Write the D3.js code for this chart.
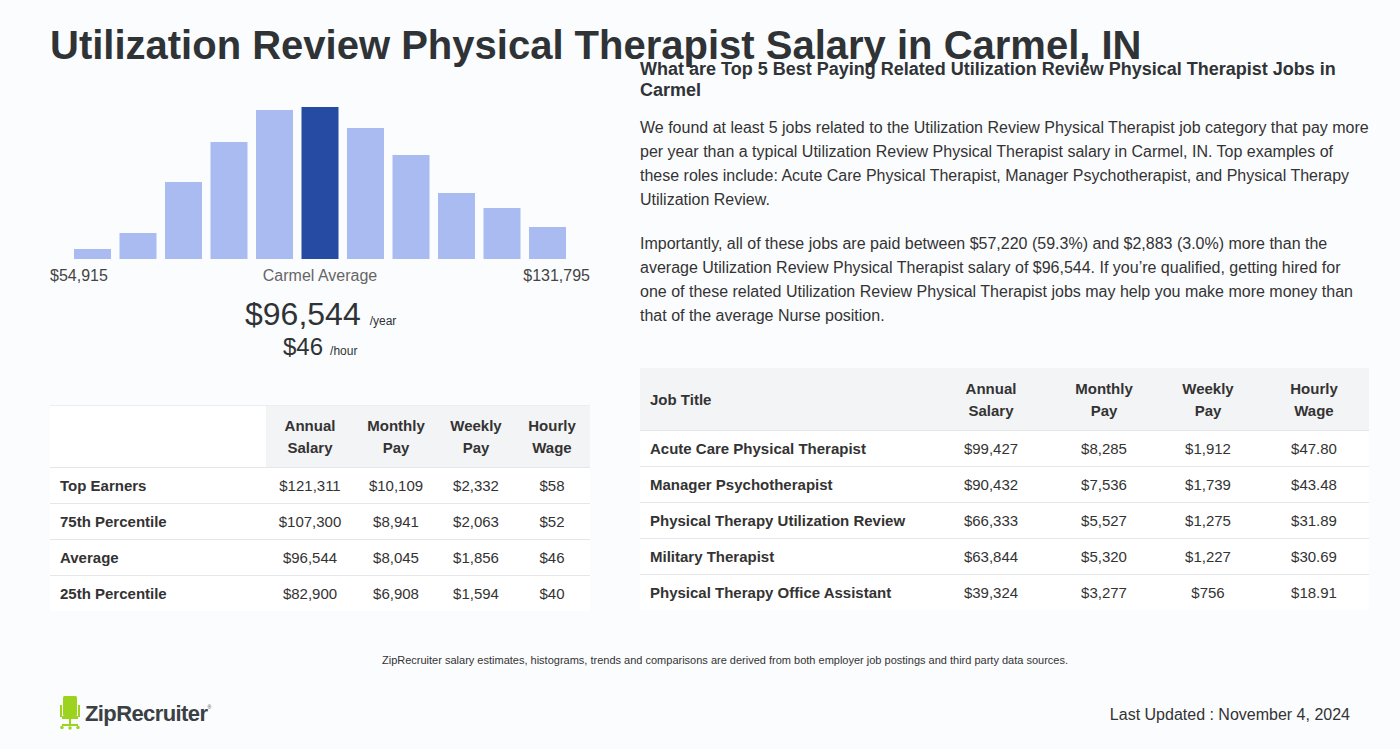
<!DOCTYPE html>
<html><head><meta charset="utf-8">
<script src="https://cdn.jsdelivr.net/npm/d3@7"></script>
<style>html,body{margin:0;padding:0;background:#fbfcfe;}svg{display:block;font-family:"Liberation Sans",Arial,sans-serif;}</style>
</head><body>
<div id="chart"></div>
<script>
// ---------- DATA ----------
const titleText = "Utilization Review Physical Therapist Salary in Carmel, IN";
const histBins = ["b1","b2","b3","b4","b5","b6","b7","b8","b9","b10","b11"];
const histValues = [10, 26, 77, 117, 149, 152, 131, 104, 66, 51, 32];
const highlightBin = 5;
const rangeMin = "$54,915";
const rangeMax = "$131,795";
const avgLabel = "Carmel Average";
const avgYear = "$96,544";
const avgHour = "$46";

const leftCols = [["Annual","Salary"],["Monthly","Pay"],["Weekly","Pay"],["Hourly","Wage"]];
const leftRowLabels = ["Top Earners","75th Percentile","Average","25th Percentile"];
const leftAnnual = ["$121,311","$107,300","$96,544","$82,900"];
const leftMonthly = ["$10,109","$8,941","$8,045","$6,908"];
const leftWeekly = ["$2,332","$2,063","$1,856","$1,594"];
const leftHourly = ["$58","$52","$46","$40"];

const subHeading = ["What are Top 5 Best Paying Related Utilization Review Physical Therapist Jobs in","Carmel"];
const para1 = ["We found at least 5 jobs related to the Utilization Review Physical Therapist job category that pay more",
 "per year than a typical Utilization Review Physical Therapist salary in Carmel, IN. Top examples of",
 "these roles include: Acute Care Physical Therapist, Manager Psychotherapist, and Physical Therapy",
 "Utilization Review."];
const para2 = ["Importantly, all of these jobs are paid between $57,220 (59.3%) and $2,883 (3.0%) more than the",
 "average Utilization Review Physical Therapist salary of $96,544. If you\u2019re qualified, getting hired for",
 "one of these related Utilization Review Physical Therapist jobs may help you make more money than",
 "that of the average Nurse position."];

const rightCols = [["Annual","Salary"],["Monthly","Pay"],["Weekly","Pay"],["Hourly","Wage"]];
const jobTitles = ["Acute Care Physical Therapist","Manager Psychotherapist","Physical Therapy Utilization Review","Military Therapist","Physical Therapy Office Assistant"];
const jobAnnual = ["$99,427","$90,432","$66,333","$63,844","$39,324"];
const jobMonthly = ["$8,285","$7,536","$5,527","$5,320","$3,277"];
const jobWeekly = ["$1,912","$1,739","$1,275","$1,227","$756"];
const jobHourly = ["$47.80","$43.48","$31.89","$30.69","$18.91"];

const footnote = "ZipRecruiter salary estimates, histograms, trends and comparisons are derived from both employer job postings and third party data sources.";
const updated = "Last Updated : November 4, 2024";
const brand = "ZipRecruiter";

// ---------- DRAW ----------
const W = 1400, H = 749;
const svg = d3.select("#chart").append("svg").attr("width", W).attr("height", H);
svg.append("rect").attr("width", W).attr("height", H).attr("fill", "#fbfcfe");

const dark = "#2f3336", text = "#333333";

// Title
svg.append("text").attr("x", 50).attr("y", 59).attr("font-size", 40).attr("font-weight", "bold")
  .attr("fill", dark).text(titleText);

// Histogram
const x = d3.scaleBand().domain(histBins).range([74, 566]).paddingInner(0.187).paddingOuter(0);
const y = d3.scaleLinear().domain([0, 152]).range([259, 107]);
svg.append("g").selectAll("rect").data(histValues).join("rect")
  .attr("x", (d, i) => x(histBins[i])).attr("width", x.bandwidth())
  .attr("y", d => y(d)).attr("height", d => y(0) - y(d))
  .attr("fill", (d, i) => i === highlightBin ? "#264ba3" : "#a9bbf1");

svg.append("text").attr("x", 50).attr("y", 281).attr("font-size", 16).attr("fill", "#444").text(rangeMin);
svg.append("text").attr("x", 320).attr("y", 281).attr("font-size", 16).attr("fill", "#666").attr("text-anchor", "middle").text(avgLabel);
svg.append("text").attr("x", 590).attr("y", 281).attr("font-size", 16).attr("fill", "#444").attr("text-anchor", "end").text(rangeMax);

const yr = svg.append("text").attr("x", 245).attr("y", 325).attr("fill", dark);
yr.append("tspan").attr("font-size", 32).text(avgYear);
yr.append("tspan").attr("font-size", 12).attr("dx", 9).text("/year");
const hr = svg.append("text").attr("x", 283).attr("y", 355).attr("fill", dark);
hr.append("tspan").attr("font-size", 24).text(avgHour);
hr.append("tspan").attr("font-size", 12).attr("dx", 7).text("/hour");

// Left table
const lt = svg.append("g");
lt.append("rect").attr("x", 50).attr("y", 405).attr("width", 216).attr("height", 62).attr("fill", "#ffffff");
lt.append("rect").attr("x", 266).attr("y", 405).attr("width", 324).attr("height", 62).attr("fill", "#f3f4f6");
lt.append("line").attr("x1", 50).attr("x2", 590).attr("y1", 405.5).attr("y2", 405.5).attr("stroke", "#eceef1");
const lColX = [310, 396, 476, 552];
leftCols.forEach((c, i) => {
  c.forEach((t, j) => lt.append("text").attr("x", lColX[i]).attr("y", 431 + j * 22).attr("text-anchor", "middle")
    .attr("font-size", 15).attr("font-weight", "bold").attr("fill", text).text(t));
});
const lVals = [leftAnnual, leftMonthly, leftWeekly, leftHourly];
leftRowLabels.forEach((lab, r) => {
  const top = 467 + r * 36;
  lt.append("rect").attr("x", 50).attr("y", top).attr("width", 540).attr("height", 36).attr("fill", "#ffffff");
  lt.append("line").attr("x1", 50).attr("x2", 590).attr("y1", top + 0.5).attr("y2", top + 0.5).attr("stroke", "#e5e7eb");
  lt.append("text").attr("x", 60).attr("y", top + 24).attr("font-size", 15).attr("font-weight", "bold").attr("fill", text).text(lab);
  lVals.forEach((arr, c) => lt.append("text").attr("x", lColX[c]).attr("y", top + 24).attr("text-anchor", "middle")
    .attr("font-size", 15).attr("fill", text).text(arr[r]));
});

// Right side heading + paragraphs
subHeading.forEach((t, i) => svg.append("text").attr("x", 640).attr("y", 75 + i * 21).attr("font-size", 18)
  .attr("font-weight", "bold").attr("fill", dark).text(t));
para1.forEach((t, i) => svg.append("text").attr("x", 640).attr("y", 133 + i * 24).attr("font-size", 16).attr("fill", text).text(t));
para2.forEach((t, i) => svg.append("text").attr("x", 640).attr("y", 249 + i * 24).attr("font-size", 16).attr("fill", text).text(t));

// Right table
const rt = svg.append("g");
rt.append("rect").attr("x", 640).attr("y", 368).attr("width", 729).attr("height", 62).attr("fill", "#f3f4f6");
rt.append("text").attr("x", 650).attr("y", 405).attr("font-size", 15).attr("font-weight", "bold").attr("fill", text).text("Job Title");
const rColX = [991, 1104, 1208, 1314];
rightCols.forEach((c, i) => {
  c.forEach((t, j) => rt.append("text").attr("x", rColX[i]).attr("y", 394 + j * 22).attr("text-anchor", "middle")
    .attr("font-size", 15).attr("font-weight", "bold").attr("fill", text).text(t));
});
const rVals = [jobAnnual, jobMonthly, jobWeekly, jobHourly];
jobTitles.forEach((lab, r) => {
  const top = 430 + r * 36;
  rt.append("rect").attr("x", 640).attr("y", top).attr("width", 729).attr("height", 36).attr("fill", "#ffffff");
  rt.append("line").attr("x1", 640).attr("x2", 1369).attr("y1", top + 0.5).attr("y2", top + 0.5).attr("stroke", "#e5e7eb");
  rt.append("text").attr("x", 650).attr("y", top + 24).attr("font-size", 15).attr("font-weight", "bold").attr("fill", text).text(lab);
  rVals.forEach((arr, c) => rt.append("text").attr("x", rColX[c]).attr("y", top + 24).attr("text-anchor", "middle")
    .attr("font-size", 15).attr("fill", text).text(arr[r]));
});

// Footnote
svg.append("text").attr("x", 725).attr("y", 664).attr("text-anchor", "middle").attr("font-size", 11).attr("fill", text).text(footnote);

// Logo
const lg = svg.append("g").attr("fill", "#9bd31f");
lg.append("rect").attr("x", 63).attr("y", 696).attr("width", 14).attr("height", 20).attr("rx", 1.5);
lg.append("rect").attr("x", 60).attr("y", 705).attr("width", 2).attr("height", 12);
lg.append("rect").attr("x", 78).attr("y", 705).attr("width", 2).attr("height", 12);
lg.append("rect").attr("x", 62).attr("y", 716).attr("width", 16).attr("height", 3);
lg.append("rect").attr("x", 69).attr("y", 719).attr("width", 2).attr("height", 6);
lg.append("rect").attr("x", 62).attr("y", 724).attr("width", 16).attr("height", 2);
lg.append("circle").attr("cx", 62).attr("cy", 727.5).attr("r", 1.7);
lg.append("circle").attr("cx", 70).attr("cy", 728).attr("r", 1.7);
lg.append("circle").attr("cx", 78).attr("cy", 727.5).attr("r", 1.7);
const bt = svg.append("text").attr("x", 85).attr("y", 721).attr("font-size", 22).attr("font-weight", "bold")
  .attr("fill", "#3b4045").attr("letter-spacing", -0.6);
bt.append("tspan").text(brand);
bt.append("tspan").attr("font-size", 5).attr("dy", -12).attr("font-weight", "normal").text("\u00AE");

// Last updated
svg.append("text").attr("x", 1350).attr("y", 720).attr("text-anchor", "end").attr("font-size", 16).attr("fill", text).text(updated);
</script>
</body></html>
